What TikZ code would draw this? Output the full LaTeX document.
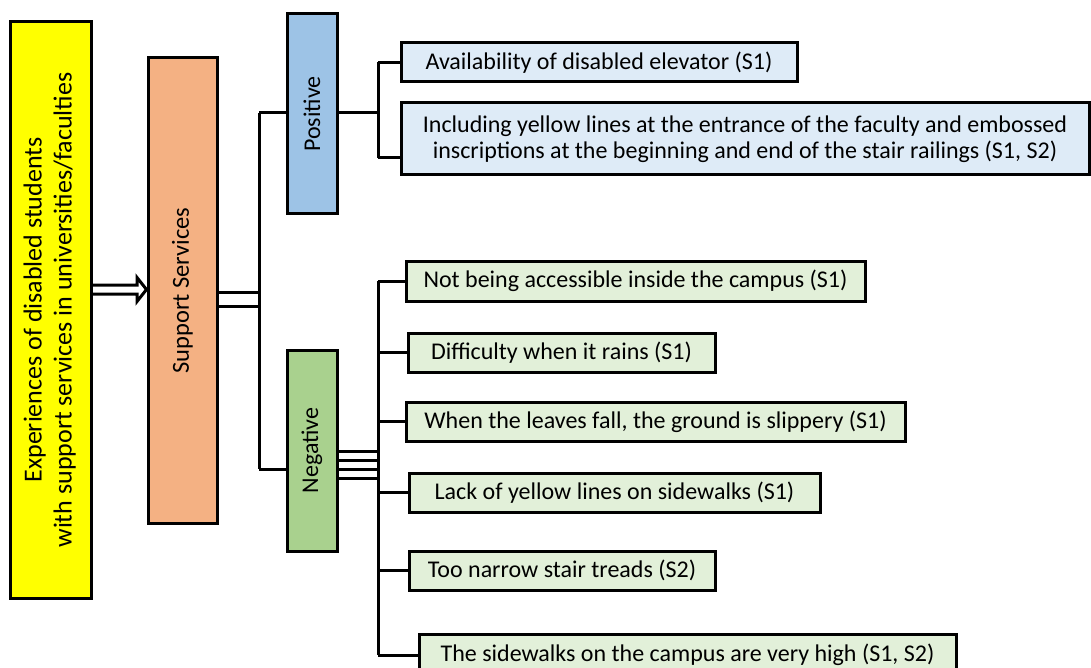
\documentclass[tikz,border=0pt]{standalone}
\usepackage{fontspec}
\setmainfont{Carlito}
\usetikzlibrary{backgrounds}
\definecolor{expyellow}{HTML}{FFFF00}
\definecolor{supfill}{HTML}{F4B183}
\definecolor{posfill}{HTML}{9DC3E6}
\definecolor{negfill}{HTML}{A9D18E}
\definecolor{positem}{HTML}{DEEBF7}
\definecolor{negitem}{HTML}{E2F0D9}
\begin{document}
\begin{tikzpicture}[x=1pt,y=-1pt,
  box/.style={draw=black, line width=3pt, inner sep=0pt, align=center,
              font=\fontsize{24}{26}\selectfont},
  bigtext/.style={font=\fontsize{#1}{30}\selectfont},
  link/.style={line width=3pt},
  twin/.style={line width=3pt, double=white, double distance=#1},
]
\useasboundingbox (0,0) rectangle (1091,668);
\clip (0,0) rectangle (1091,668);

% main boxes
\node[box, bigtext=26, fill=expyellow, minimum width=81pt, minimum height=576pt] (exp) at (50.5,310)
  {\rotatebox{90}{\begin{tabular}{@{}c@{}}Experiences of disabled students\\
   with support services in universities/faculties\end{tabular}}};
\node[box, bigtext=24.5, fill=supfill, minimum width=69pt, minimum height=465pt] (sup) at (182.5,290.5)
  {\rotatebox{90}{Support Services}};
\node[box, fill=posfill, minimum width=50pt, minimum height=200pt] (pos) at (312,114)
  {\rotatebox{90}{Positive}};
\node[box, fill=negfill, minimum width=50pt, minimum height=201pt] (neg) at (312,450.5)
  {\rotatebox{90}{Negative}};

% positive items
\node[box, fill=positem, minimum width=396pt, minimum height=39pt] (p1) at (599,62.5)
  {Availability of disabled elevator (S1)};
\node[box, fill=positem, minimum width=688pt, minimum height=72pt] (p2) at (745,139)
  {Including yellow lines at the entrance of the faculty and embossed\\
   inscriptions at the beginning and end of the stair railings (S1, S2)};

% negative items
\node[box, fill=negitem, minimum width=459pt, minimum height=40pt] (n1) at (635.5,281)
  {Not being accessible inside the campus (S1)};
\node[box, fill=negitem, minimum width=307pt, minimum height=39pt] (n2) at (561.5,352.5)
  {Difficulty when it rains (S1)};
\node[box, fill=negitem, minimum width=499pt, minimum height=39pt] (n3) at (655.5,421.5)
  {When the leaves fall, the ground is slippery (S1)};
\node[box, fill=negitem, minimum width=411pt, minimum height=39pt] (n4) at (614.5,492.5)
  {Lack of yellow lines on sidewalks (S1)};
\node[box, fill=negitem, minimum width=306pt, minimum height=39pt] (n5) at (562,570.5)
  {Too narrow stair treads (S2)};
\node[box, fill=negitem, minimum width=537pt, minimum height=42pt] (n6) at (687.5,655)
  {The sidewalks on the campus are very high (S1, S2)};

% bus junctions
\coordinate (sj) at (259,299);
\coordinate (st) at (259,113);
\coordinate (sb) at (259,469);
\coordinate (pj) at (378,113);
\coordinate (pt) at (378,62.5);
\coordinate (pb) at (378,158);
\coordinate (nj1) at (378,455.5);
\coordinate (nj2) at (378,474);

\begin{scope}[on background layer]
  % hollow block arrow into the support box
  \draw[link, fill=white, line join=miter]
    (exp.east |- 0,285) -- (137,285) -- (137,277.5) -- (sup.west |- 0,289.5)
    -- (137,301.5) -- (137,294) -- (exp.east |- 0,294);
  % double links
  \draw[twin=11pt] (sup.east |- sj) -- (sj);
  \draw[twin=6pt] (neg.east |- nj1) -- (nj1);
  \draw[twin=6pt] (neg.east |- nj2) -- (nj2);
  % support bus
  \draw[link] (st) -- (sb);
  \draw[link] (st) -- (pos.west |- st);
  \draw[link] (sb) -- (neg.west |- sb);
  % positive bus
  \draw[link] (pos.east |- pj) -- (pj);
  \draw[link] (pt) -- (pb);
  \draw[link] (pt) -- (p1.west);
  \draw[link] (pb) -- (p2.west |- pb);
  % negative bus
  \draw[link] (n1.west -| pj) -- (n6.west -| pj);
  \foreach \n in {n1,n2,n3,n4,n5,n6}
    \draw[link] (\n.west -| pj) -- (\n.west);
\end{scope}
\end{tikzpicture}
\end{document}
